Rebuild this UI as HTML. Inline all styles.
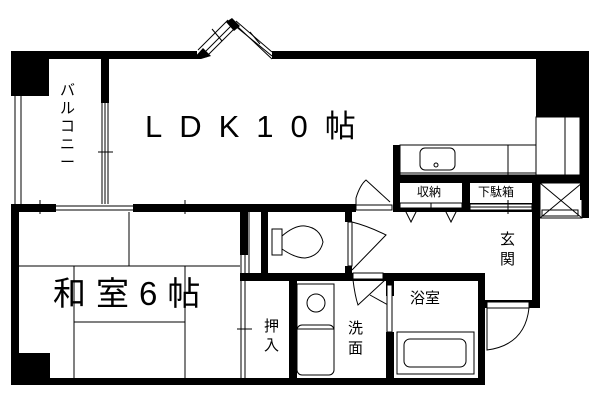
<!DOCTYPE html>
<html><head><meta charset="utf-8"><style>
html,body{margin:0;padding:0;background:#fff;width:600px;height:400px;overflow:hidden}
svg{display:block}
text{font-family:"Liberation Sans","Noto Sans CJK JP",sans-serif;fill:#000}
</style></head><body>
<svg width="600" height="400" viewBox="0 0 600 400" xmlns="http://www.w3.org/2000/svg">
<g fill="#000">
<rect x="11" y="51" width="186" height="8"/>
<rect x="272" y="51" width="317" height="8"/>
<rect x="11" y="51" width="38" height="45"/>
<rect x="536" y="51" width="53" height="66"/>
<rect x="580" y="117" width="9" height="83"/>
<rect x="101" y="58" width="8" height="45"/>
<rect x="393" y="145" width="7" height="67"/>
<rect x="400" y="175" width="182" height="8"/>
<rect x="462" y="183" width="8" height="29"/>
<rect x="532" y="183" width="8" height="125"/>
<rect x="11" y="204" width="45" height="8"/>
<rect x="133" y="204" width="223" height="8"/>
<rect x="393" y="203" width="147" height="9"/>
<rect x="11" y="204" width="8" height="181"/>
<rect x="11" y="353" width="39" height="32"/>
<rect x="11" y="378" width="474" height="7"/>
<rect x="240" y="204" width="8" height="51"/>
<rect x="261" y="204" width="7" height="76"/>
<rect x="240" y="273" width="245" height="8"/>
<rect x="289" y="280" width="8" height="105"/>
<rect x="345" y="204" width="7" height="18"/>
<rect x="345" y="266" width="7" height="14"/>
<rect x="386" y="280" width="8" height="16"/>
<rect x="386" y="332" width="8" height="53"/>
<rect x="478" y="273" width="7" height="112"/>
<rect x="485" y="300" width="55" height="8"/>
<rect x="533" y="210" width="7" height="98"/>
<rect x="582" y="183" width="7" height="35"/>
<polygon points="193,59 203,48 211,56 201,59"/>
<polygon points="226,22 232,18 240,26 234,31"/>
</g>
<g fill="none" stroke="#000" stroke-width="1">
<line x1="198" y1="50" x2="228" y2="20"/><line x1="203" y1="54" x2="233" y2="24"/><line x1="206" y1="57" x2="236" y2="27"/>
<line x1="236" y1="21" x2="272" y2="52"/><line x1="234" y1="25" x2="272" y2="56"/><line x1="238" y1="27" x2="272" y2="59"/>
<line x1="212" y1="29" x2="222" y2="41"/><line x1="250" y1="32" x2="260" y2="44"/>
<line x1="15" y1="96" x2="15" y2="204"/><line x1="21" y1="96" x2="21" y2="204"/>
<line x1="102" y1="103" x2="102" y2="204"/><line x1="105" y1="103" x2="105" y2="204"/><line x1="108" y1="103" x2="108" y2="204"/>
<line x1="98" y1="152" x2="113" y2="152"/>
<line x1="56" y1="206" x2="133" y2="206"/><line x1="56" y1="210" x2="133" y2="210"/>
<line x1="19" y1="206" x2="56" y2="206"/><line x1="40" y1="200" x2="40" y2="214"/>
<line x1="185" y1="200" x2="185" y2="214"/>
<line x1="129" y1="212" x2="129" y2="266"/><line x1="19" y1="266" x2="240" y2="266"/>
<line x1="74" y1="266" x2="74" y2="378"/><line x1="185" y1="266" x2="185" y2="378"/>
<line x1="74" y1="322" x2="185" y2="322"/>
<line x1="241" y1="255" x2="241" y2="378"/><line x1="245" y1="255" x2="245" y2="378"/>
<line x1="237" y1="329" x2="252" y2="329"/>
<line x1="249" y1="212" x2="249" y2="273"/>
<rect x="536" y="117" width="44" height="58"/><line x1="565" y1="117" x2="565" y2="175"/>
<rect x="400" y="145" width="136" height="30"/><line x1="508" y1="145" x2="508" y2="175"/>
<line x1="400" y1="173" x2="536" y2="173"/>
<rect x="420" y="148" width="35" height="22" rx="5"/><circle cx="436" cy="165" r="2"/>
<rect x="400" y="203" width="62" height="5" fill="#fff"/><line x1="431" y1="203" x2="431" y2="208"/>
<polyline points="405,210 411,222 417,210"/><polyline points="445,210 451,222 457,210"/>
<rect x="470" y="204" width="62" height="6" fill="#fff"/><line x1="470" y1="207" x2="532" y2="207"/>
<line x1="508" y1="200" x2="508" y2="214"/>
<rect x="540" y="183" width="42" height="35"/><line x1="540" y1="183" x2="582" y2="218"/><line x1="582" y1="183" x2="540" y2="218"/>
<rect x="542" y="210" width="36" height="6"/>
<rect x="356" y="205" width="36" height="5"/>
<path d="M356,205 L356,198 Q360,185 366,180 L390,202"/>
<rect x="272" y="229" width="10" height="26"/>
<path d="M282,236 Q295,225 305,226 Q320,228 323,242 Q320,256 305,258 Q295,258 282,249"/>
<rect x="348" y="222" width="4" height="44"/>
<path d="M352,222 Q368,226 386,235 L352,270"/>
<line x1="534" y1="212" x2="534" y2="273"/>
<rect x="297" y="284" width="37" height="45"/><circle cx="316" cy="303" r="9"/>
<rect x="297" y="325" width="37" height="50" rx="5"/>
<rect x="353" y="273" width="30" height="6" fill="#fff"/>
<path d="M353,280 Q355,296 358,305 L385,280"/>
<path d="M370,295 L388,305"/>
<rect x="387" y="285" width="5" height="47" fill="#fff"/>
<rect x="397" y="332" width="77" height="42"/><rect x="404" y="339" width="62" height="28" rx="6"/>
<rect x="487" y="302" width="42" height="6" fill="#fff"/>
<path d="M487,308 L487,350 Q525,345 529,308"/>
</g>
<text x="145" y="137" font-size="31" letter-spacing="17">LDK10帖</text>
<text x="53" y="305" font-size="33" letter-spacing="10">和室6帖</text>
<g font-size="15">
<text x="60" y="95">バ</text><text x="60" y="113">ル</text><text x="60" y="131">コ</text><text x="60" y="149">ニ</text><text x="60" y="167">ー</text>
<text x="264" y="331">押</text><text x="264" y="350">入</text>
<text x="348" y="333">洗</text><text x="348" y="353">面</text>
<text x="500" y="244">玄</text><text x="500" y="264">関</text>
<text x="410" y="303">浴室</text>
</g>
<g font-size="12"><text x="417" y="196">収納</text><text x="478" y="196">下駄箱</text></g>
</svg>
</body></html>
